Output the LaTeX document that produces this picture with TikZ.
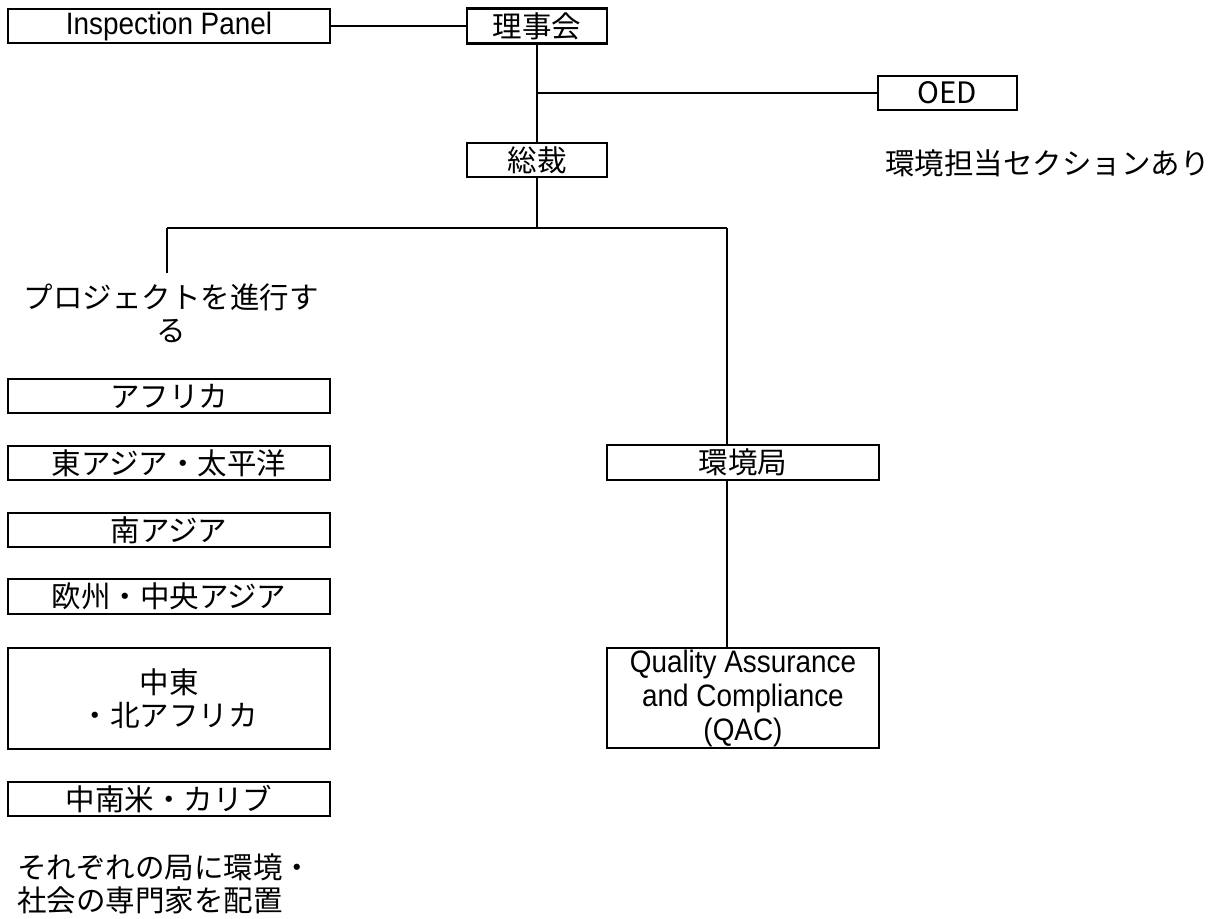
\documentclass[tikz,border=0pt]{standalone}
\usepackage{fontspec}
\setmainfont{Noto Sans CJK JP}
\newfontfamily\latinf[FakeStretch=0.9]{Liberation Sans}
\newcommand\jpfs{\fontsize{29.5}{33}\selectfont}
\newcommand\latfs{\latinf\fontsize{31}{34}\selectfont}
\begin{document}
\begin{tikzpicture}[x=1pt,y=-1pt,
  box/.style={draw, line width=2.9pt, inner sep=0pt, outer sep=0pt, font=\jpfs, align=center},
  conn/.style={line width=1.9pt},
  plain/.style={inner sep=0pt, outer sep=0pt, font=\jpfs}]
\useasboundingbox (0,0) rectangle (1214,918);
% top level
\node[box, minimum width=322pt, minimum height=34pt, font=\latfs] (ip) at (169,26) {Inspection Panel};
\node[box, minimum width=140pt, minimum height=35pt] (riji) at (537,26) {理事会};
\node[box, minimum width=139pt, minimum height=34pt] (oed) at (947.5,93) {OED};
\node[box, minimum width=140pt, minimum height=34pt] (sosai) at (537,160) {総裁};
\node[plain, anchor=west] (kt) at (885,163) {環境担当セクションあり};
% left column
\node[plain, align=center] (proj) at (171,313) {プロジェクトを進行す\\る};
\node[box, minimum width=322pt, minimum height=34pt] (afr) at (169,396) {アフリカ};
\node[box, minimum width=322pt, minimum height=34pt] (eap) at (169,463) {東アジア・太平洋};
\node[box, minimum width=322pt, minimum height=34pt] (sa) at (169,530) {南アジア};
\node[box, minimum width=322pt, minimum height=35pt] (eca) at (169,596.5) {欧州・中央アジア};
\node[box, minimum width=322pt, minimum height=101pt] (mena) at (169,698.5) {中東\\・北アフリカ};
\node[box, minimum width=322pt, minimum height=34pt] (lac) at (169,799) {中南米・カリブ};
\node[plain, anchor=west, align=left] (note) at (17,884) {それぞれの局に環境・\\社会の専門家を配置};
% right column
\node[box, minimum width=272pt, minimum height=35pt] (kyoku) at (743,462.5) {環境局};
\node[box, minimum width=272pt, minimum height=100pt, font=\latfs] (qac) at (743,698) {Quality Assurance\\and Compliance\\(QAC)};
% connectors
\draw[conn] (ip.east) -- (riji.west);
\draw[conn] (riji.south) -- (sosai.north);
\coordinate (j1) at (537,93);
\draw[conn] (j1) -- (oed.west);
\coordinate (j2) at (537,228);
\draw[conn] (sosai.south) -- (j2);
\coordinate (hl) at (167,228);
\coordinate (hr) at (727,228);
\draw[line width=2.9pt] (hl) -- (hr);
\coordinate (pl) at (167,273);
\draw[conn] (hl) -- (pl);
\draw[conn] (hr) -- (hr |- kyoku.north);
\draw[conn] (kyoku.south -| hr) -- (qac.north -| hr);
\end{tikzpicture}
\end{document}
